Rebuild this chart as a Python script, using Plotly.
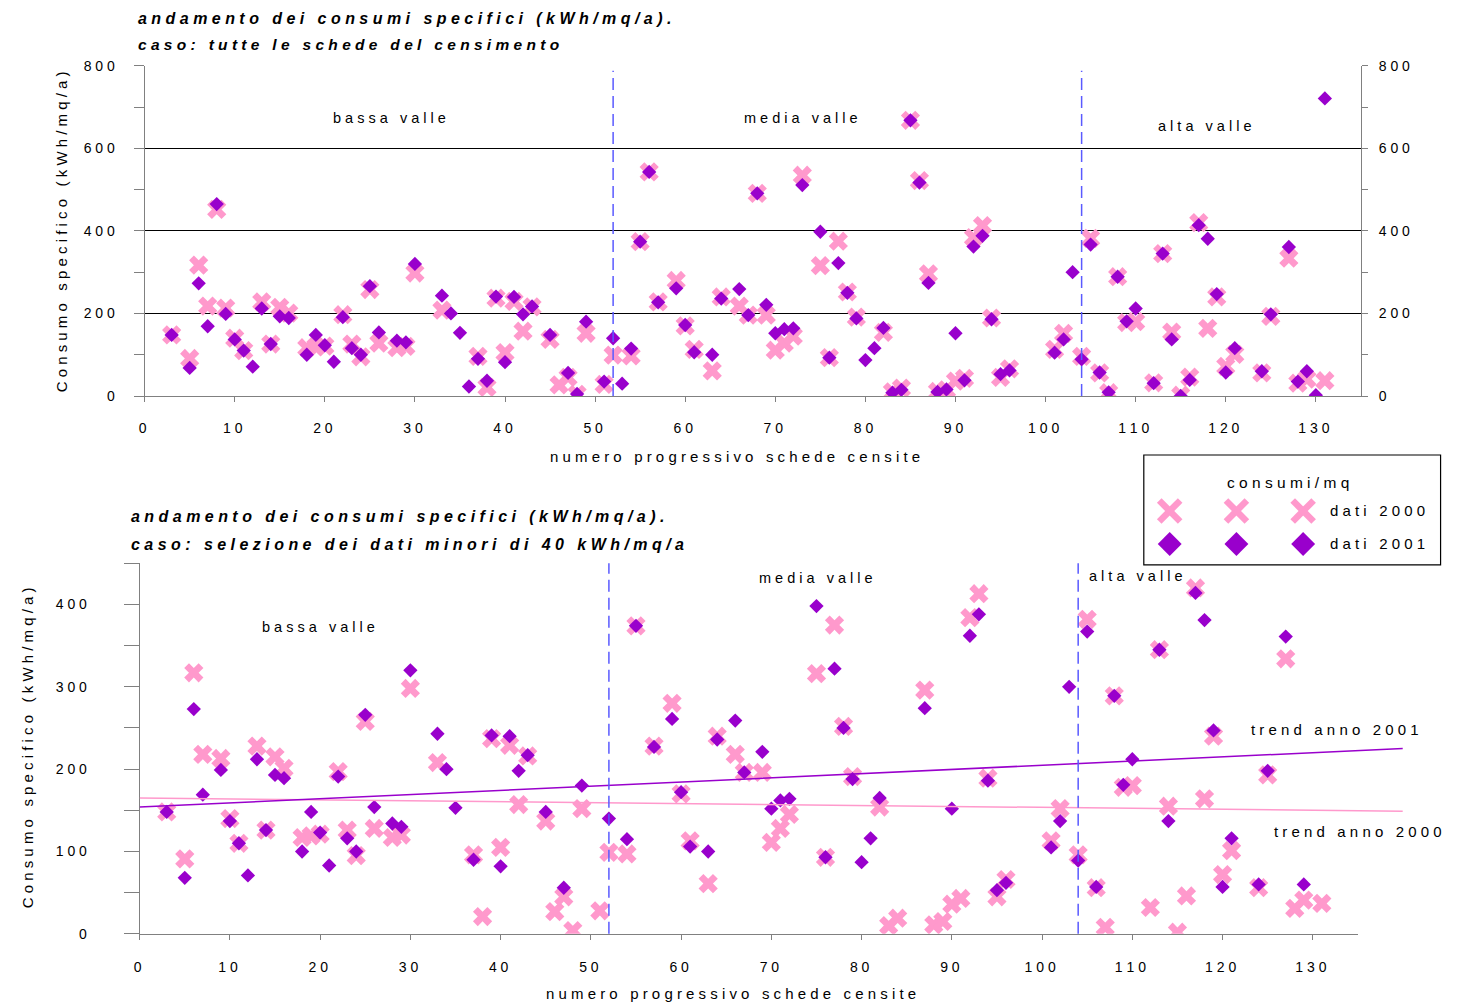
import plotly.graph_objects as go

W, H = 1460, 1007

# ---------------- data ----------------
schede = [3, 5, 6, 7, 8, 9, 10, 11, 12, 13,
          14, 15, 16, 18, 19, 20, 21, 22, 23, 24,
          25, 26, 28, 29, 30, 33, 34, 35, 36, 37,
          38, 39, 40, 41, 42, 43, 45, 46, 47, 48,
          49, 51, 52, 53, 54, 55, 56, 57, 59, 60,
          61, 63, 64, 66, 67, 68, 69, 70, 71, 72,
          73, 75, 76, 77, 78, 79, 80, 81, 82, 83,
          84, 85, 86, 87, 88, 89, 90, 91, 92, 93,
          94, 95, 96, 101, 102, 103, 104, 105, 106, 107,
          108, 109, 110, 112, 113, 114, 115, 116, 117, 118,
          119, 120, 121, 124, 125, 127, 128, 129, 130, 131]

dati_2000 = [148, 91, 317, 218, 452, 213, 140, 110, None, 228,
             126, 215, 201, 117, 119, 121, None, 197, 126, 95,
             258, 128, 117, 120, 298, 208, None, None, None, 96,
             21, 237, 105, 229, 157, 216, 137, 27, 45, 4,
             152, 28, 99, None, 97, 374, 543, 228, 280, 170,
             113, 61, 240, 218, 196, 491, 196, 111, 128, 145,
             535, 316, 93, 375, 252, 191, None, None, 154, 10,
             19, 668, 522, 296, 11, 15, 36, 43, 384, 413,
             189, 45, 66, 113, 152, None, 96, 382, 56, 8,
             289, 178, 180, 32, 345, 155, 2, 46, 420, 164,
             240, 72, 101, 56, 193, 334, 31, 41, None, 37]

dati_2001 = [148, 68, 273, 169, 465, 199, 137, 110, 71, 212,
             126, 193, 189, 100, 148, 123, 83, 191, 116, 100,
             266, 154, 134, 130, 320, 243, 200, 153, 23, 90,
             37, 241, 82, 240, 198, 217, 148, None, 56, 5,
             180, 35, 140, 30, 115, 374, 543, 227, 261, 172,
             106, 100, 236, 259, 196, 491, 221, 152, 162, 164,
             511, 398, 93, 322, 250, 188, 87, 116, 165, 8,
             15, 668, 517, 274, 10, 16, 152, 38, 362, 388,
             186, 53, 62, 105, 137, 300, 89, 367, 57, 9,
             289, 181, 212, 31, 345, 137, 0, 39, 414, 381,
             247, 57, 116, 60, 198, 361, 35, 60, 2, 721]

# limits of the valley zones (scheda number)
confini_zone = [52, 104]

# selection for the second chart
soglia_min_2001 = 40
soglia_max = 450

# trend lines
trend_x = [0, 140]
trend_2001 = [154, 225]
trend_2000 = [165, 149]

x_ticks = list(range(0, 131, 10))
y1_ticks = [0, 200, 400, 600, 800]
y1_minor = [100, 300, 500, 700]
y2_ticks = [0, 100, 200, 300, 400]
y2_minor = [50, 150, 250, 350, 450]

# ---------------- style ----------------
PINK = "#FF99CC"
PURPLE = "#9900CC"
GRAY = "#808080"
DASH = "#5A5AFF"
FONT = "Liberation Sans, Arial, sans-serif"


def sp(s):
    return " ".join(s).replace("   ", "\u00a0\u00a0\u00a0")


def px_x(p):
    return (p - 2.5) / W


def px_y(p):
    return 1 - (p / 0.9844 - 8) / H


# selection for bottom chart
sel_2000 = [(x, v) for x, v in zip(schede, dati_2000) if v is not None and v <= soglia_max]
sel_2001 = [(x, v) for x, v in zip(schede, dati_2001)
            if v is not None and soglia_min_2001 <= v <= soglia_max]

CROSS = dict(symbol="x", size=17, color=PINK, line=dict(width=0))
DIAM = dict(symbol="diamond", size=11, color=PURPLE, line=dict(width=0))

fig = go.Figure()
# top chart
fig.add_trace(go.Scatter(x=schede, y=dati_2000, mode="markers", marker=CROSS,
                         xaxis="x", yaxis="y", showlegend=False, name="dati 2000"))
fig.add_trace(go.Scatter(x=schede, y=dati_2001, mode="markers", marker=DIAM,
                         xaxis="x", yaxis="y", showlegend=False, name="dati 2001"))
fig.add_trace(go.Scatter(x=[], y=[], xaxis="x", yaxis="y3", showlegend=False))
# bottom chart
fig.add_trace(go.Scatter(x=trend_x, y=trend_2000, mode="lines", line=dict(color=PINK, width=1.5),
                         xaxis="x3", yaxis="y2", showlegend=False))
fig.add_trace(go.Scatter(x=trend_x, y=trend_2001, mode="lines", line=dict(color=PURPLE, width=1.5),
                         xaxis="x3", yaxis="y2", showlegend=False))
fig.add_trace(go.Scatter(x=[p[0] for p in sel_2000], y=[p[1] for p in sel_2000], mode="markers",
                         marker=CROSS, xaxis="x2", yaxis="y2", showlegend=False))
fig.add_trace(go.Scatter(x=[p[0] for p in sel_2001], y=[p[1] for p in sel_2001], mode="markers",
                         marker=DIAM, xaxis="x2", yaxis="y2", showlegend=False))

tickfont = dict(family=FONT, size=14, color="black")
xt = [sp(str(v)) + "\u00a0" for v in x_ticks]

common_x = dict(range=[0, 135], showline=True, linecolor=GRAY, linewidth=1, ticks="outside",
                ticklen=5, tickcolor=GRAY, tickvals=x_ticks, ticktext=xt, showgrid=False,
                zeroline=False, tickfont=tickfont)

fig.update_layout(
    width=W, height=H, margin=dict(l=0, r=0, t=0, b=0),
    paper_bgcolor="white", plot_bgcolor="rgba(0,0,0,0)",
    font=dict(family=FONT, color="black"),
    xaxis=dict(domain=[px_x(141.7), px_x(1363)], anchor="y", ticklabelstandoff=14, **common_x),
    yaxis=dict(domain=[px_y(396), px_y(65.7)], range=[0, 800], anchor="x", showline=True,
               linecolor=GRAY, ticks="outside", ticklen=10, tickcolor=GRAY, tickvals=y1_ticks,
               ticktext=[sp(str(v)) for v in y1_ticks], showgrid=True, gridcolor="black",
               gridwidth=1, zeroline=False, tickfont=tickfont, ticklabelstandoff=16,
               minor=dict(tickvals=y1_minor, ticks="outside", ticklen=10, tickcolor=GRAY,
                          showgrid=False)),
    yaxis3=dict(overlaying="y", side="right", anchor="x", range=[0, 800], showline=True,
                linecolor=GRAY, ticks="outside", ticklen=6, tickcolor=GRAY, tickvals=y1_ticks,
                ticktext=[sp(str(v)) for v in y1_ticks], showgrid=False, zeroline=False,
                tickfont=tickfont, ticklabelstandoff=8,
                minor=dict(tickvals=y1_minor, ticks="outside", ticklen=6, tickcolor=GRAY,
                           showgrid=False)),
    xaxis2=dict(domain=[px_x(136.7), px_x(1360)], anchor="y2", ticklabelstandoff=15, **common_x),
    yaxis2=dict(domain=[px_y(934), px_y(563.3)], range=[0, 450], anchor="x2", showline=True,
                linecolor=GRAY, ticks="outside", ticklen=15, tickcolor=GRAY, tickvals=y2_ticks,
                ticktext=[sp(str(v)) for v in y2_ticks], showgrid=False, zeroline=False,
                tickfont=tickfont, ticklabelstandoff=34,
                minor=dict(tickvals=y2_minor, ticks="outside", ticklen=15, tickcolor=GRAY,
                           showgrid=False)),
    xaxis3=dict(domain=[px_x(136.7), px_x(136.7 + 140 * 9.06)], range=[0, 140], anchor="y2",
                visible=False),
)

shapes = []
for b in confini_zone:
    shapes.append(dict(type="line", xref="x", yref="y domain", x0=b, x1=b, y0=0, y1=0.985,
                       line=dict(color=DASH, width=1.5, dash="12px,6px")))
    shapes.append(dict(type="line", xref="x2", yref="y2 domain", x0=b, x1=b, y0=0, y1=1,
                       line=dict(color=DASH, width=1.5, dash="12px,6px")))
# legend box
shapes.append(dict(type="rect", xref="paper", yref="paper", x0=px_x(1145), x1=px_x(1443),
                   y0=px_y(565), y1=px_y(455), line=dict(color="black", width=1.2),
                   fillcolor="white", layer="above"))
# legend symbols (three per row, as in the original legend)
for cx in (1171, 1238, 1305):
    cy = 511
    a = 10.5
    for dy in (-a, a):
        shapes.append(dict(type="line", xref="paper", yref="paper",
                           x0=px_x(cx - a), y0=px_y(cy - dy), x1=px_x(cx + a), y1=px_y(cy + dy),
                           line=dict(color=PINK, width=6.5), layer="above"))
    cy = 544
    d = 12
    path = "M {},{} L {},{} L {},{} L {},{} Z".format(
        px_x(cx), px_y(cy - d), px_x(cx + d), px_y(cy), px_x(cx), px_y(cy + d),
        px_x(cx - d), px_y(cy))
    shapes.append(dict(type="path", xref="paper", yref="paper", path=path,
                       fillcolor=PURPLE, line=dict(width=0), layer="above"))
fig.update_layout(shapes=shapes)

ann = []


def label(text, x, y, xref, yref, size=15, xanchor="center", yanchor="middle", **kw):
    ann.append(dict(text=text, x=x, y=y, xref=xref, yref=yref, showarrow=False,
                    xanchor=xanchor, yanchor=yanchor,
                    font=dict(family=FONT, size=size, color="black"), **kw))


# titles
titolo = sp("andamento dei consumi specifici (kWh/mq/a).")
label("<b><i>" + titolo + "</i></b>", px_x(133), px_y(18), "paper", "paper", size=16,
      xanchor="left")
label("<b><i>" + sp("caso: tutte le schede del censimento") + "</i></b>", px_x(133), px_y(44),
      "paper", "paper", size=15.5, xanchor="left")
label("<b><i>" + titolo + "</i></b>", px_x(126), px_y(517), "paper", "paper", size=16,
      xanchor="left")
label("<b><i>" + sp("caso: selezione dei dati minori di 40 kWh/mq/a") + "</i></b>", px_x(126),
      px_y(545), "paper", "paper", size=16, xanchor="left")

# axis titles
xtit = sp("numero progressivo schede censite")
ytit = sp("Consumo specifico (kWh/mq/a)")
label(xtit, px_x(735), px_y(457), "paper", "paper")
label(xtit, px_x(730), px_y(994), "paper", "paper")
label(ytit, px_x(58), px_y(232), "paper", "paper", textangle=-90)
label(ytit, px_x(24), px_y(748), "paper", "paper", textangle=-90)

# zone labels
label(sp("bassa valle"), 27.2, 673, "x", "y", size=14.5)
label(sp("media valle"), 72.9, 673, "x", "y", size=14.5)
label(sp("alta valle"), 117.7, 654, "x", "y", size=14.5)
label(sp("bassa valle"), 19.8, 373, "x2", "y2", size=14.5)
label(sp("media valle"), 74.9, 432, "x2", "y2", size=14.5)
label(sp("alta valle"), 110.4, 434, "x2", "y2", size=14.5)
label(sp("trend anno 2001"), 132.5, 248, "x2", "y2", size=15)
label(sp("trend anno 2000"), 135.0, 124, "x2", "y2", size=15)

# legend texts
label(sp("consumi/mq"), px_x(1290), px_y(483), "paper", "paper", size=15.5)
label(sp("dati 2000"), px_x(1330), px_y(511), "paper", "paper", size=15, xanchor="left")
label(sp("dati 2001"), px_x(1330), px_y(544), "paper", "paper", size=15, xanchor="left")

fig.update_layout(annotations=ann)
fig.write_html("out.html")
